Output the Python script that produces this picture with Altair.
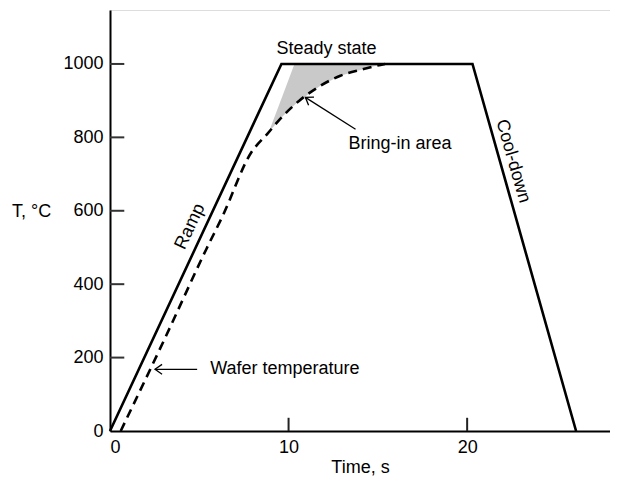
import altair as alt
import pandas as pd

# Furnace (lamp) temperature profile: time (s), temperature (°C)
furnace_t = [0.0, 9.6, 20.3, 26.1]
furnace_T = [0, 1000, 1000, 0]

# Wafer temperature (dashed)
wafer_t = [0.6, 3.1, 5.4, 6.3, 7.9, 8.8, 9.7, 10.6, 11.8, 12.9, 14.2, 14.9, 15.4]
wafer_T = [0, 255, 496, 585, 758, 809, 859, 900, 941, 968, 986, 995, 1000]

# Bring-in (shaded) area: lower = wafer curve, upper = boundary near furnace ramp
area_t = [8.9, 9.7, 10.33, 10.6, 11.8, 12.9, 14.2, 14.9, 15.4]
area_lo = [815, 859, 888, 900, 941, 968, 986, 995, 1000]
area_hi = [815, 918, 1000, 1000, 1000, 1000, 1000, 1000, 1000]

y_ticks = [0, 200, 400, 600, 800, 1000]
x_ticks = [0, 10, 20]

# Annotations
lab_text = ["Steady state", "Bring-in area", "Wafer temperature"]
lab_x = [12.12, 13.36, 5.61]
lab_y = [1040, 781, 168]
lab_align = ["center", "left", "left"]

rot_text = ["Ramp", "Cool-down"]
rot_x = [4.49, 22.56]
rot_y = [557, 735]
rot_angle = [295, 74]

arrow_x = [4.88, 13.75]
arrow_y = [168, 822]
arrow_x2 = [2.52, 10.94]
arrow_y2 = [168, 909]
arrow_angle = [0, 33]

XMAX, YMAX = 28.0, 1147
FONT = "Liberation Sans"
W, H = 500, 421
TICK_X = 0.8    # inward y-tick length in time units (~14 px)
TICK_Y = 36     # inward x-tick length in °C units (~13 px)

xs = alt.Scale(domain=[0, XMAX], nice=False, zero=False)
ys = alt.Scale(domain=[0, YMAX], nice=False, zero=False)

furnace = pd.DataFrame({"t": furnace_t, "T": furnace_T})
wafer = pd.DataFrame({"t": wafer_t, "T": wafer_T})
area = pd.DataFrame({"t": area_t, "lo": area_lo, "hi": area_hi})

area_layer = alt.Chart(area).mark_area(color="#bcbcbc", opacity=0.8).encode(
    x=alt.X("t:Q", scale=xs,
            axis=alt.Axis(values=x_ticks, title="Time, s", tickSize=0, format="d",
                          labelFont=FONT, labelFontSize=18, labelColor="black",
                          labelPadding=7, titleFont=FONT, titleFontSize=18,
                          titleFontWeight="normal", titleColor="black", titlePadding=2,
                          domainColor="black", domainWidth=2, grid=False)),
    y=alt.Y("lo:Q", scale=ys,
            axis=alt.Axis(values=y_ticks, title=None, tickSize=0, format="d",
                          labelFont=FONT, labelFontSize=18, labelColor="black",
                          labelPadding=7, domainColor="black", domainWidth=2, grid=False)),
    y2="hi:Q",
)

furnace_layer = alt.Chart(furnace).mark_line(color="black", strokeWidth=2.6).encode(
    x=alt.X("t:Q", scale=xs), y=alt.Y("T:Q", scale=ys)
)

wafer_layer = alt.Chart(wafer).mark_line(
    color="black", strokeWidth=2.6, strokeDash=[9, 6], interpolate="monotone"
).encode(x=alt.X("t:Q", scale=xs), y=alt.Y("T:Q", scale=ys))

yt = pd.DataFrame({"ytv": y_ticks[1:], "ya": [0] * 5, "yb": [TICK_X] * 5})
ytick_layer = alt.Chart(yt).mark_rule(color="#333", strokeWidth=2).encode(
    y=alt.Y("ytv:Q", scale=ys), x=alt.X("ya:Q", scale=xs), x2="yb:Q"
)

xt = pd.DataFrame({"xtv": x_ticks[1:], "xa": [0] * 2, "xb": [TICK_Y] * 2})
xtick_layer = alt.Chart(xt).mark_rule(color="#222", strokeWidth=2).encode(
    x=alt.X("xtv:Q", scale=xs), y=alt.Y("xa:Q", scale=ys), y2="xb:Q"
)

label_layers = []
for txt, x, y, al in zip(lab_text, lab_x, lab_y, lab_align):
    label_layers.append(
        alt.Chart(pd.DataFrame({"txt": [txt], "x": [x], "y": [y]})).mark_text(
            font=FONT, fontSize=18, color="black", align=al, baseline="middle"
        ).encode(x=alt.X("x:Q", scale=xs), y=alt.Y("y:Q", scale=ys), text="txt:N")
    )

rot_layers = []
for txt, x, y, a in zip(rot_text, rot_x, rot_y, rot_angle):
    rot_layers.append(
        alt.Chart(pd.DataFrame({"txt": [txt], "x": [x], "y": [y]})).mark_text(
            font=FONT, fontSize=18, color="black", align="center", baseline="middle", angle=a
        ).encode(x=alt.X("x:Q", scale=xs), y=alt.Y("y:Q", scale=ys), text="txt:N")
    )

ylab_layer = alt.Chart(pd.DataFrame({"txt": ["T, °C"], "y": [596]})).mark_text(
    font=FONT, fontSize=18, color="black", align="left", baseline="middle"
).encode(x=alt.value(-98), y=alt.Y("y:Q", scale=ys), text="txt:N")

arrows = pd.DataFrame({"x": arrow_x, "y": arrow_y, "x2": arrow_x2, "y2": arrow_y2})
shaft_layer = alt.Chart(arrows).mark_rule(color="black", strokeWidth=1.3).encode(
    x=alt.X("x:Q", scale=xs), y=alt.Y("y:Q", scale=ys), x2="x2:Q", y2="y2:Q"
)
head_layers = []
for hx, hy, ang in zip(arrow_x2, arrow_y2, arrow_angle):
    head_layers.append(
        alt.Chart(pd.DataFrame({"x": [hx], "y": [hy]})).mark_point(
            shape="M 1 -0.7 L 0 0 L 1 0.7", filled=False, color="black",
            strokeWidth=1.3, size=200, angle=ang, opacity=1
        ).encode(x=alt.X("x:Q", scale=xs), y=alt.Y("y:Q", scale=ys))
    )

chart = alt.layer(
    area_layer, furnace_layer, wafer_layer, ytick_layer, xtick_layer,
    *label_layers, *rot_layers, ylab_layer, shaft_layer, *head_layers
).properties(
    width=W, height=H,
    autosize=alt.AutoSizeParams(type="none"),
    padding={"left": 102, "top": 2, "right": 0, "bottom": 47},
).configure_view(stroke=None).configure(background="white")

chart.save("out.html", embed_options={"renderer": "svg", "actions": False})
